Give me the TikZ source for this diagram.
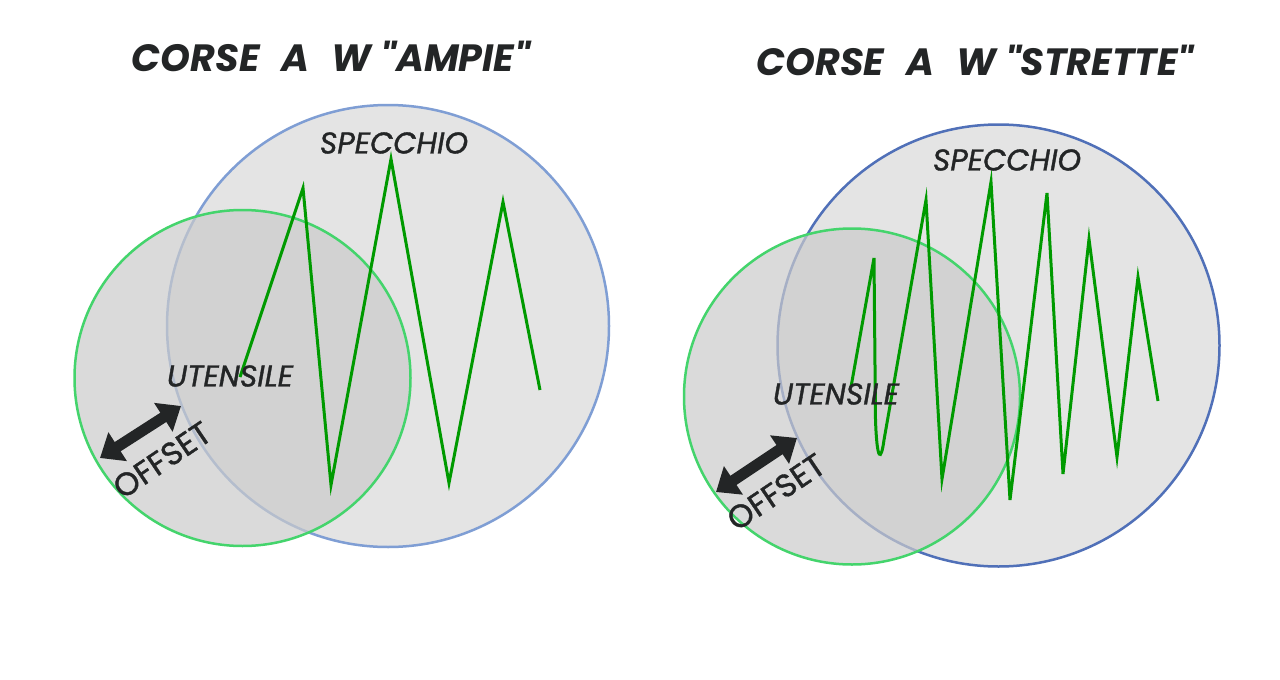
\documentclass[tikz,border=0pt]{standalone}
\usepackage{fontspec}
\setmainfont{Poppins}
\newfontfamily\labelfont[FakeBold=1.2]{Poppins}
\usetikzlibrary{arrows.meta}
\definecolor{ink}{HTML}{232526}
\definecolor{bluelight}{HTML}{7F9ED4}
\definecolor{bluedark}{HTML}{5070B8}
\definecolor{greenring}{HTML}{44D46C}
\definecolor{zig}{HTML}{009A00}
\definecolor{bigfill}{HTML}{E4E4E4}
\definecolor{smallfill}{HTML}{CBCBCB}
\newcommand{\gap}{\hspace{22pt}}
\tikzset{
  title/.style={font=\fontsize{38}{40}\selectfont\bfseries\itshape, text=ink, inner sep=0},
  label/.style={font=\labelfont\fontsize{30}{32}\selectfont\itshape, text=ink, inner sep=0},
  offsettext/.style={font=\labelfont\fontsize{32}{34}\selectfont, text=ink, inner sep=0, rotate=34},
  bigcircle/.style={circle, draw=#1, line width=2.5pt, fill=bigfill, inner sep=0, minimum size=442pt},
  smallcircle/.style={circle, draw=greenring, line width=2.5pt, fill=smallfill, fill opacity=0.7, draw opacity=1, inner sep=0, minimum size=336pt},
  zigzag/.style={draw=zig, line width=3pt, line join=miter},
  offsetarrow/.style={draw=ink, line width=11pt, {Triangle[length=21pt,width=33pt]}-{Triangle[length=21pt,width=33pt]}},
}
\begin{document}
\begin{tikzpicture}[x=1pt,y=-1pt]
\useasboundingbox[fill=white] (0,0) rectangle (1280,680);

% ---------- left panel ----------
\node[title] (t1) at (331,56) {CORSE\gap A\gap W \textquotedbl AMPIE\textquotedbl};
\node[bigcircle=bluelight] (b1) at (388,326) {};
\node[smallcircle] (g1) at (242.5,378) {};
\draw[zigzag] (240,377) -- (303,188) -- (331,485) -- (391,159) -- (449,483) -- (503,202) -- (540,390);
\node[label] (s1) at (394,143) {SPECCHIO};
\node[label] (u1) at (230,376) {UTENSILE};
\coordinate (a1s) at (100,458);
\coordinate (a1e) at (181,406);
\draw[offsetarrow] (a1s) -- (a1e);
\node[offsettext] (o1) at (162,460) {OFFSET};

% ---------- right panel ----------
\node[title] (t2) at (975,60) {CORSE\gap A\gap W \textquotedbl STRETTE\textquotedbl};
\node[bigcircle=bluedark] (b2) at (998.5,345.5) {};
\node[smallcircle] (g2) at (852,396.5) {};
\draw[zigzag] (851,387) -- (874,258) -- (875.5,420) .. controls (877,462) and (881,462) .. (884,440)
  -- (926,200) -- (942,479) -- (991,182) -- (1010,500) -- (1047,193) -- (1063,474)
  -- (1089,239) -- (1117,457) -- (1138,277) -- (1158,401);
\node[label] (s2) at (1007,160) {SPECCHIO};
\node[label] (u2) at (836,394) {UTENSILE};
\coordinate (a2s) at (716,492);
\coordinate (a2e) at (797,438);
\draw[offsetarrow] (a2s) -- (a2e);
\node[offsettext] (o2) at (776,492) {OFFSET};
\end{tikzpicture}
\end{document}
